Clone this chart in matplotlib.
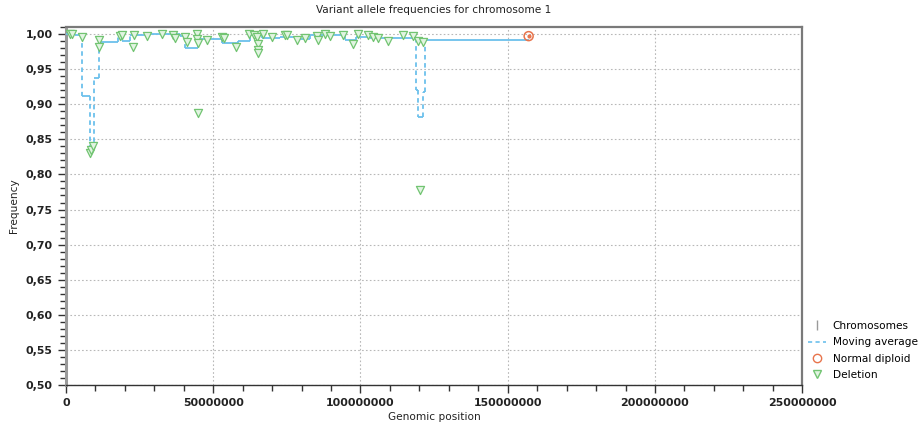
import numpy as np
import matplotlib.pyplot as plt
from matplotlib.ticker import FuncFormatter, MultipleLocator
from matplotlib.lines import Line2D

# -----------------------------
# Data
# -----------------------------
# Deletion calls: genomic position and variant allele frequency
del_pos = [1.4e6, 2.0e6, 5.4e6, 8.2e6, 8.5e6, 9.2e6, 11.2e6, 11.2e6, 18.4e6, 19.0e6,
           22.8e6, 23.1e6, 27.6e6, 32.7e6, 36.4e6, 37.1e6, 40.5e6, 41.2e6, 44.6e6, 44.6e6,
           44.9e6, 44.9e6, 48.0e6, 53.1e6, 53.7e6, 57.8e6, 62.2e6, 63.9e6, 65.0e6, 65.3e6,
           65.3e6, 65.3e6, 67.0e6, 70.1e6, 74.5e6, 75.2e6, 78.6e6, 81.3e6, 85.4e6, 85.7e6,
           88.1e6, 89.8e6, 93.9e6, 97.6e6, 99.0e6, 102.7e6, 104.1e6, 106.1e6, 109.2e6, 114.6e6,
           117.7e6, 119.4e6, 120.1e6, 121.4e6]
del_freq = [1.000, 1.000, 0.996, 0.830, 0.835, 0.840, 0.991, 0.981, 0.997, 0.999,
            0.981, 0.999, 0.997, 1.000, 0.999, 0.994, 0.996, 0.989, 1.000, 0.993,
            0.987, 0.887, 0.991, 0.996, 0.994, 0.981, 1.000, 0.999, 0.996, 0.986,
            0.977, 0.973, 1.000, 0.996, 0.999, 0.999, 0.991, 0.994, 0.997, 0.991,
            1.000, 0.997, 0.999, 0.986, 1.000, 0.999, 0.996, 0.994, 0.990, 0.999,
            0.997, 0.990, 0.778, 0.989]

# Moving average: step boundaries and level of each step
ma_start = [0.0, 3.1e6, 5.4e6, 8.2e6, 9.5e6, 11.2e6, 17.7e6, 19.0e6, 21.8e6, 28.6e6,
            38.8e6, 40.5e6, 44.9e6, 53.1e6, 58.5e6, 62.6e6, 66.7e6, 72.8e6, 78.6e6, 83.0e6,
            94.9e6, 98.6e6, 103.4e6, 118.7e6, 119.7e6, 121.1e6, 121.8e6]
ma_end = ma_start[1:] + [157.1e6]
ma_value = [1.000, 0.999, 0.912, 0.835, 0.937, 0.989, 0.997, 0.990, 0.999, 1.000,
            0.997, 0.980, 0.993, 0.987, 0.990, 0.999, 0.994, 0.996, 0.993, 0.999,
            0.991, 0.996, 0.994, 0.920, 0.882, 0.917, 0.992]

# Normal diploid call
norm_pos = [157.1e6]
norm_freq = [0.997]

ma_color = "#6cc0ec"
del_edge = "#72c472"
del_face = "#e2f4e2"
norm_color = "#e8744c"
text_color = "#222222"
fs = 7.6

# -----------------------------
# Figure
# -----------------------------
fig = plt.figure(figsize=(9.2, 4.26), dpi=100)
ax = fig.add_axes([0.0717, 0.0962, 0.8003, 0.8404])

ax.set_xlim(0, 250e6)
ax.set_ylim(0.5, 1.01)

# moving average: solid plateaus, dashed jumps between them
ax.hlines(ma_value, ma_start, ma_end, color=ma_color, linewidth=1.3, zorder=3)
ax.vlines(ma_start[1:], ma_value[:-1], ma_value[1:], color=ma_color,
          linewidth=1.3, linestyles=(0, (2.5, 2)), zorder=3)

ax.scatter(del_pos, del_freq, marker="v", s=34, facecolor=del_face,
           edgecolor=del_edge, linewidth=0.9, zorder=4)

ax.scatter(norm_pos, norm_freq, marker="o", s=42, facecolor="none",
           edgecolor=norm_color, linewidth=1.1, zorder=5)
ax.scatter(norm_pos, norm_freq, marker="o", s=4, color=norm_color, zorder=5)

# axes styling
ax.xaxis.set_major_locator(MultipleLocator(50e6))
ax.xaxis.set_minor_locator(MultipleLocator(10e6))
ax.yaxis.set_major_locator(MultipleLocator(0.05))
ax.yaxis.set_minor_locator(MultipleLocator(0.01))
ax.xaxis.set_major_formatter(FuncFormatter(lambda v, p: f"{v:.0f}"))
ax.yaxis.set_major_formatter(FuncFormatter(lambda v, p: f"{v:.2f}".replace(".", ",")))

ax.grid(True, which="major", color="#b8b8b8", linestyle=(0, (1.5, 2)), linewidth=0.8)
ax.set_axisbelow(True)

for side in ["top", "right"]:
    ax.spines[side].set_color("#7a7a7a")
    ax.spines[side].set_linewidth(1.6)
ax.spines["left"].set_color("#9a9a9a")
ax.spines["left"].set_linewidth(2.2)
ax.spines["bottom"].set_color("#333333")
ax.spines["bottom"].set_linewidth(1.0)

ax.tick_params(which="major", length=6, width=1.0, color="#333333",
               labelsize=fs + 0.3, labelcolor=text_color)
ax.tick_params(which="minor", length=4, width=1.0, color="#333333")
for lbl in ax.get_xticklabels() + ax.get_yticklabels():
    lbl.set_fontweight("bold")

ax.set_title("Variant allele frequencies for chromosome 1", fontsize=fs,
             color=text_color, pad=10)
ax.set_xlabel("Genomic position", fontsize=fs, color=text_color, labelpad=3)
ax.set_ylabel("Frequency", fontsize=fs, color=text_color, labelpad=5)

handles = [
    Line2D([], [], marker="|", color="#9a9a9a", linestyle="none", markersize=7),
    Line2D([], [], color=ma_color, linestyle=(0, (2.5, 2)), linewidth=1.2),
    Line2D([], [], marker="o", markerfacecolor="none", markeredgecolor=norm_color,
           linestyle="none", markersize=6),
    Line2D([], [], marker="v", markerfacecolor=del_face, markeredgecolor=del_edge,
           linestyle="none", markersize=6),
]
labels = ["Chromosomes", "Moving average", "Normal diploid", "Deletion"]
fig.legend(handles, labels, loc="upper left", bbox_to_anchor=(0.874, 0.256),
           frameon=False, fontsize=fs, handlelength=1.7, labelspacing=0.6,
           borderaxespad=0, handletextpad=0.6)

fig.savefig("out.png", dpi=100)
